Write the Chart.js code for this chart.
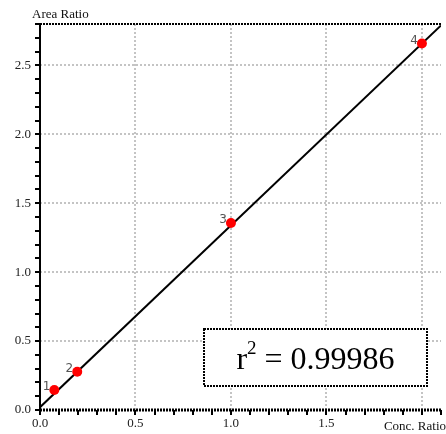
<!DOCTYPE html>
<html>
<head>
<meta charset="utf-8">
<script src="https://cdn.jsdelivr.net/npm/chart.js@4.4.1/dist/chart.umd.min.js"></script>
<style>
html,body{margin:0;padding:0;background:#fff;}
#wrap{width:446px;height:434px;}
</style>
</head>
<body>
<div id="wrap"><canvas id="c" width="446" height="434"></canvas></div>
<script>
// ---- data ----
const concRatio = [0.075, 0.195, 1.0, 2.0];
const areaRatio = [0.145, 0.278, 1.356, 2.658];
const pointLabels = ['1', '2', '3', '4'];
const fitX = [0, 2.1];
const fitY = [0.02, 2.79];
const xMajorTicks = ['0.0', '0.5', '1.0', '1.5'];
const yMajorTicks = ['0.0', '0.5', '1.0', '1.5', '2.0', '2.5'];
const xTitle = 'Conc. Ratio';
const yTitle = 'Area Ratio';
const r2Value = '0.99986';

const SERIF = '"Liberation Serif", "Times New Roman", serif';

const decor = {
  id: 'decor',
  beforeDatasetsDraw(chart) {
    const {ctx, chartArea: a} = chart;
    ctx.save();
    ctx.strokeStyle = '#000';
    ctx.lineWidth = 2;
    ctx.beginPath();
    ctx.moveTo(a.left, a.top - 1);
    ctx.lineTo(a.left, a.bottom + 1);
    ctx.stroke();
    ctx.setLineDash([2, 1]);
    ctx.lineWidth = 2;
    ctx.beginPath();
    ctx.moveTo(a.left, a.top);
    ctx.lineTo(a.right, a.top);
    ctx.stroke();
    ctx.lineWidth = 3;
    ctx.beginPath();
    ctx.moveTo(a.left, a.bottom);
    ctx.lineTo(a.right, a.bottom);
    ctx.stroke();
    ctx.restore();
  },
  afterDraw(chart) {
    const {ctx} = chart;
    ctx.save();
    ctx.fillStyle = '#111';
    ctx.font = '13px ' + SERIF;
    ctx.textBaseline = 'alphabetic';
    ctx.textAlign = 'left';
    ctx.fillText(yTitle, 32, 18);
    ctx.textAlign = 'right';
    ctx.fillText(xTitle, 446, 430);
    ctx.fillStyle = '#555';
    ctx.font = '12px "DejaVu Sans", sans-serif';
    ctx.textAlign = 'right';
    const meta = chart.getDatasetMeta(1);
    meta.data.forEach((pt, i) => {
      ctx.fillText(pointLabels[i], pt.x - 4, pt.y);
    });
    const bx = 204, by = 329, bw = 223, bh = 57;
    ctx.fillStyle = '#fff';
    ctx.fillRect(bx, by, bw, bh);
    ctx.strokeStyle = '#000';
    ctx.lineWidth = 2;
    ctx.setLineDash([2, 1]);
    ctx.strokeRect(bx, by, bw, bh);
    ctx.setLineDash([]);
    ctx.fillStyle = '#000';
    ctx.textAlign = 'left';
    const big = '32px ' + SERIF, small = '19px ' + SERIF;
    const rest = ' = ' + r2Value;
    ctx.font = big;
    const wR = ctx.measureText('r').width;
    const wRest = ctx.measureText(rest).width;
    ctx.font = small;
    const w2 = ctx.measureText('2').width;
    const total = wR + w2 + wRest;
    let x = bx + (bw - total) / 2;
    const base = 369;
    ctx.font = big;
    ctx.fillText('r', x, base);
    x += wR;
    ctx.font = small;
    ctx.fillText('2', x, base - 15);
    x += w2;
    ctx.font = big;
    ctx.fillText(rest, x, base);
    ctx.restore();
  }
};

const tickCb = list => v => { const t = Number(v).toFixed(1); return list.includes(t) && Math.round(v * 10) % 5 === 0 ? t : ''; };

new Chart(document.getElementById('c'), {
  type: 'scatter',
  data: {
    datasets: [
      {
        type: 'line',
        data: fitX.map((x, i) => ({x, y: fitY[i]})),
        borderColor: '#000',
        borderWidth: 2,
        pointRadius: 0,
        fill: false,
        tension: 0,
        order: 2
      },
      {
        data: concRatio.map((x, i) => ({x, y: areaRatio[i]})),
        backgroundColor: '#ff0000',
        borderColor: '#ff0000',
        pointRadius: 5,
        pointBorderWidth: 0,
        order: 1
      }
    ]
  },
  options: {
    responsive: false,
    animation: false,
    events: [],
    layout: {padding: {top: 24, right: 2, left: 0, bottom: 0}},
    plugins: {legend: {display: false}, tooltip: {enabled: false}},
    scales: {
      x: {
        type: 'linear',
        min: 0, max: 2.1,
        afterFit: s => { s.height = 24; },
        ticks: {
          stepSize: 0.1, autoSkip: false, maxRotation: 0, padding: 1,
          color: '#222', font: {family: SERIF, size: 13},
          callback: tickCb(xMajorTicks)
        },
        grid: {
          color: c => { const v = c.tick.value; return (Math.round(v * 10) % 5 === 0 && v > 0.01 && v < 2.09) ? '#c4c4c4' : 'rgba(0,0,0,0)'; },
          lineWidth: 2, tickColor: '#000', tickWidth: 2, tickLength: 5
        },
        border: {display: false, dash: [2, 2]}
      },
      y: {
        type: 'linear',
        min: 0, max: 2.8,
        afterFit: s => { s.width = 40; },
        ticks: {
          stepSize: 0.1, autoSkip: false, padding: 4,
          color: '#222', font: {family: SERIF, size: 13},
          callback: tickCb(yMajorTicks)
        },
        grid: {
          color: c => { const v = c.tick.value; return (Math.round(v * 10) % 5 === 0 && v > 0.01 && v < 2.79) ? '#c4c4c4' : 'rgba(0,0,0,0)'; },
          lineWidth: 2, tickColor: '#000', tickWidth: 2, tickLength: 5
        },
        border: {display: false, dash: [2, 2]}
      }
    }
  },
  plugins: [decor]
});
</script>
</body>
</html>
